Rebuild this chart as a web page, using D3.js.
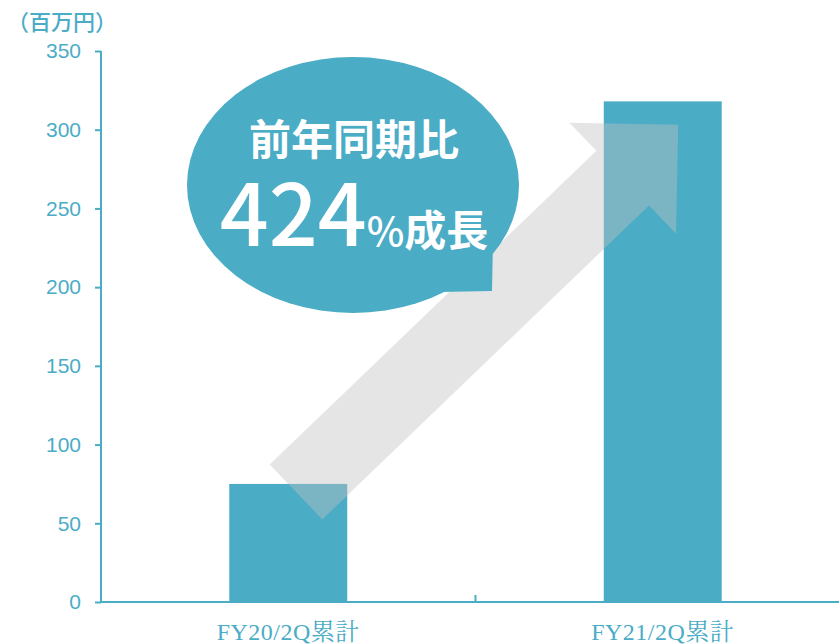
<!DOCTYPE html>
<html>
<head>
<meta charset="utf-8">
<script src="https://d3js.org/d3.v7.min.js"></script>
<style>
  body { margin: 0; background: #fff; }
  svg { display: block; }
</style>
</head>
<body>
<svg width="839" height="644"></svg>
<script>
// data
var categories = ["FY20/2Q累計", "FY21/2Q累計"];
var values = [75, 318];
var yTicks = [0, 50, 100, 150, 200, 250, 300, 350];
var unitLabel = "（百万円）";
var bubbleLine1 = "前年同期比";
var bubbleNumber = "424";

var svg = d3.select("svg"),
  width = +svg.attr("width"),
  height = +svg.attr("height");

var blue = "#4bacc6";

var x = d3
  .scaleBand()
  .domain(categories)
  .range([101, 850])
  .paddingInner(0.685)
  .paddingOuter(0.3425);

var y = d3.scaleLinear().domain([0, 350]).range([602, 51]);

// bars
svg
  .append("g")
  .attr("class", "bars")
  .selectAll("rect")
  .data(values)
  .enter()
  .append("rect")
  .attr("x", function (d, i) {
    return x(categories[i]);
  })
  .attr("y", function (d) {
    return y(d);
  })
  .attr("width", x.bandwidth())
  .attr("height", function (d) {
    return y(0) - y(d);
  })
  .attr("fill", blue);

// y axis
var yAxis = svg
  .append("g")
  .attr("transform", "translate(101,0)")
  .call(d3.axisLeft(y).tickValues(yTicks).tickSize(6).tickPadding(14));

yAxis.select(".domain").attr("stroke", blue).attr("stroke-width", 2).attr("d", "M0," + y(350) + "V" + y(0));
yAxis.selectAll(".tick line").attr("stroke", blue).attr("stroke-width", 2);
yAxis
  .selectAll(".tick text")
  .attr("fill", blue)
  .style("font-family", "'Liberation Sans', Arial, sans-serif")
  .style("font-size", "21px");

// x axis line with a tick between the two categories
svg
  .append("line")
  .attr("x1", 100)
  .attr("x2", width)
  .attr("y1", y(0))
  .attr("y2", y(0))
  .attr("stroke", blue)
  .attr("stroke-width", 2);

var mid = (x(categories[0]) + x(categories[1]) + x.bandwidth()) / 2;
svg
  .append("line")
  .attr("x1", mid)
  .attr("x2", mid)
  .attr("y1", y(0))
  .attr("y2", y(0) - 7)
  .attr("stroke", blue)
  .attr("stroke-width", 2);

svg
  .append("g")
  .selectAll("text")
  .data(categories)
  .enter()
  .append("text")
  .attr("x", function (d) {
    return x(d) + x.bandwidth() / 2;
  })
  .attr("y", 640)
  .attr("text-anchor", "middle")
  .attr("fill", blue)
  .style("font-family", "'Liberation Serif', 'Noto Serif CJK JP', 'Noto Sans CJK JP', serif")
  .style("font-size", "24px")
  .style("letter-spacing", "0.5px")
  .text(function (d) {
    return d;
  });

// unit label
svg
  .append("text")
  .attr("x", 7)
  .attr("y", 30)
  .attr("fill", blue)
  .style("font-family", "'Noto Sans CJK JP', sans-serif")
  .style("font-size", "22px")
  .style("font-weight", "500")
  .text(unitLabel);

// big growth arrow, tail near the first bar, head at the second bar
var tail = [296, 492],
  angle = (43.85 * Math.PI) / 180,
  shaftLen = 453,
  halfShaft = 38,
  halfHead = 77,
  headLen = 77;
var ux = Math.cos(angle),
  uy = -Math.sin(angle);
function pt(a, b) {
  // a along the arrow, b across it (towards lower right)
  return [tail[0] + a * ux - b * uy, tail[1] + a * uy + b * ux];
}
var arrowPts = [
  pt(0, -halfShaft),
  pt(shaftLen, -halfShaft),
  pt(shaftLen, -halfHead),
  pt(shaftLen + headLen, 0),
  pt(shaftLen, halfHead),
  pt(shaftLen, halfShaft),
  pt(0, halfShaft)
];
svg
  .append("polygon")
  .attr("points", arrowPts.map(function (p) { return p.join(","); }).join(" "))
  .attr("fill", "#c0c0c0")
  .attr("fill-opacity", 0.41);

// speech bubble
var bubble = svg.append("g").attr("class", "bubble");
bubble
  .append("ellipse")
  .attr("cx", 353)
  .attr("cy", 185)
  .attr("rx", 166)
  .attr("ry", 128)
  .attr("fill", blue);
bubble
  .append("polygon")
  .attr("points", "353,185 493,240 492,291 440,292")
  .attr("fill", blue);

bubble
  .append("text")
  .attr("x", 354)
  .attr("y", 155)
  .attr("text-anchor", "middle")
  .attr("fill", "#fff")
  .style("font-family", "'Noto Sans CJK JP', sans-serif")
  .style("font-size", "42px")
  .style("font-weight", "700")
  .text(bubbleLine1);

var big = bubble
  .append("text")
  .attr("x", 354)
  .attr("y", 246)
  .attr("text-anchor", "middle")
  .attr("fill", "#fff")
  .style("font-family", "'Noto Sans CJK JP', sans-serif")
  .style("font-weight", "500");
big.append("tspan").style("font-size", "86px").text(bubbleNumber);
big.append("tspan").style("font-size", "40px").text("%");
big.append("tspan").style("font-size", "42px").style("font-weight", "700").text("成長");
</script>
</body>
</html>
